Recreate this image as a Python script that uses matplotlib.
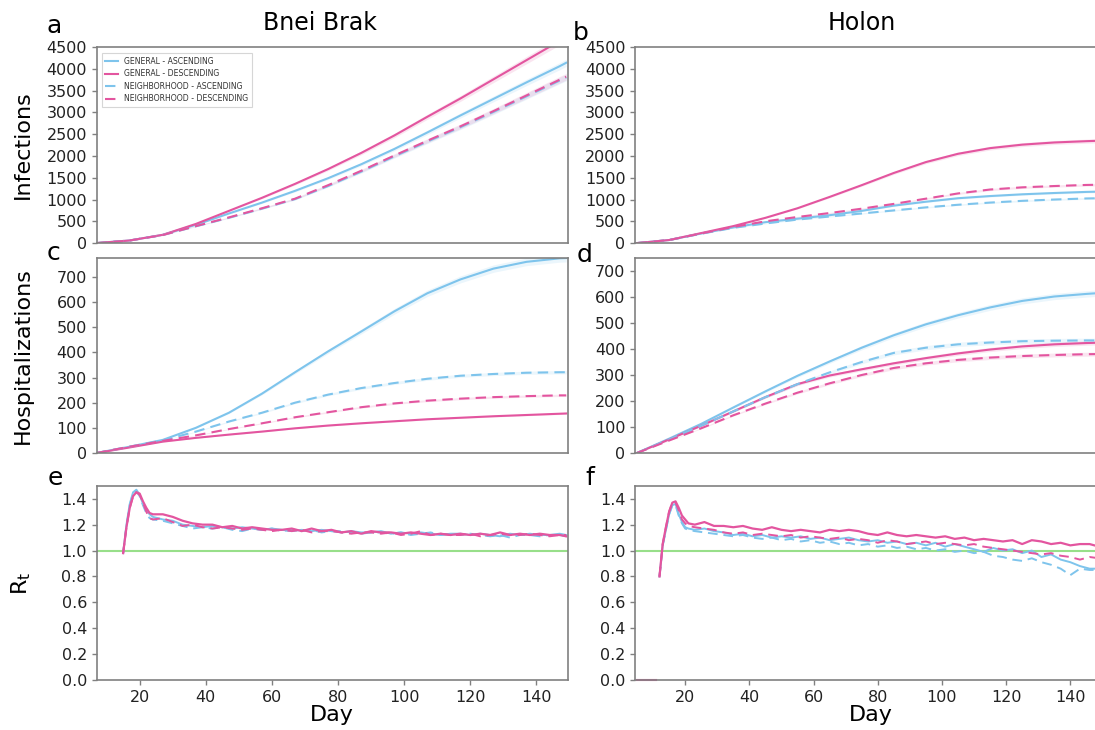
import numpy as np
import matplotlib
matplotlib.use("Agg")
import matplotlib.pyplot as plt

# цвета
BLUE = '#7ec4ec'
PINK = '#e3559f'
GREEN = '#98df8a'
GREY = '#808080'

labels = ['GENERAL - ASCENDING', 'GENERAL - DESCENDING',
          'NEIGHBORHOOD - ASCENDING', 'NEIGHBORHOOD - DESCENDING']

# ---- Bnei Brak: cumulative curves ----
days_bb = [7, 17, 27, 37, 47, 57, 67, 77, 87, 97, 107, 117, 127, 137, 147, 149]
inf_bb_gen_asc = [0, 60, 190, 420, 680, 930, 1200, 1490, 1810, 2160, 2540, 2930, 3310, 3690, 4060, 4140]
inf_bb_gen_desc = [0, 60, 190, 440, 740, 1040, 1360, 1700, 2070, 2470, 2900, 3320, 3760, 4200, 4640, 4730]
inf_bb_nbh_asc = [0, 60, 185, 385, 580, 790, 1010, 1310, 1640, 1990, 2330, 2660, 3010, 3370, 3730, 3800]
inf_bb_nbh_desc = [0, 60, 185, 390, 590, 800, 1020, 1330, 1660, 2010, 2350, 2680, 3030, 3390, 3750, 3820]

hosp_bb_gen_asc = [0, 25, 52, 100, 160, 236, 321, 404, 483, 563, 635, 690, 733, 760, 774, 775]
hosp_bb_gen_desc = [0, 22, 45, 60, 73, 85, 98, 109, 118, 126, 134, 140, 146, 151, 156, 157]
hosp_bb_nbh_asc = [0, 25, 50, 85, 125, 160, 200, 232, 258, 278, 295, 307, 314, 319, 321, 321]
hosp_bb_nbh_desc = [0, 25, 48, 70, 95, 118, 142, 162, 182, 197, 208, 216, 222, 226, 229, 229]

# ---- Holon: cumulative curves ----
days_h = [5, 15, 25, 35, 45, 55, 65, 75, 85, 95, 105, 115, 125, 135, 145, 151]
inf_h_gen_asc = [0, 70, 220, 360, 480, 560, 640, 740, 860, 950, 1030, 1080, 1120, 1150, 1175, 1185]
inf_h_gen_desc = [0, 70, 230, 390, 580, 800, 1060, 1330, 1610, 1860, 2050, 2180, 2260, 2310, 2340, 2355]
inf_h_nbh_asc = [0, 70, 215, 350, 450, 540, 610, 680, 750, 820, 880, 930, 970, 1000, 1025, 1032]
inf_h_nbh_desc = [0, 70, 220, 370, 500, 600, 690, 790, 900, 1020, 1140, 1230, 1280, 1310, 1335, 1342]

hosp_h_gen_asc = [0, 55, 112, 175, 237, 297, 352, 405, 453, 495, 530, 560, 585, 602, 612, 617]
hosp_h_gen_desc = [0, 52, 105, 160, 215, 265, 298, 322, 345, 365, 383, 398, 410, 418, 423, 425]
hosp_h_nbh_asc = [0, 52, 105, 160, 215, 265, 310, 350, 385, 405, 418, 425, 430, 432, 433, 433]
hosp_h_nbh_desc = [0, 48, 95, 145, 190, 232, 268, 300, 327, 345, 358, 367, 373, 377, 380, 381]

# ---- R_t ----
days_rt_bb = [15, 16, 17, 18, 19, 20, 21, 22, 23, 24] + list(range(27, 148, 3)) + [149]
rt_bb_gen_asc = [0.98, 1.20, 1.36, 1.45, 1.47, 1.43, 1.36, 1.31, 1.28, 1.26,
                 1.24, 1.23, 1.20, 1.19, 1.18, 1.19, 1.18, 1.17, 1.18, 1.17, 1.16, 1.17, 1.16, 1.15,
                 1.16, 1.15, 1.16, 1.15, 1.14, 1.15, 1.14, 1.14, 1.15, 1.13, 1.14, 1.13, 1.14, 1.13,
                 1.12, 1.13, 1.13, 1.12, 1.13, 1.12, 1.11, 1.13, 1.12, 1.13, 1.12, 1.12, 1.13, 1.12]
rt_bb_gen_desc = [0.98, 1.18, 1.33, 1.42, 1.45, 1.44, 1.38, 1.33, 1.29, 1.28,
                  1.28, 1.26, 1.23, 1.21, 1.20, 1.20, 1.18, 1.19, 1.17, 1.18, 1.17, 1.16, 1.16, 1.17,
                  1.15, 1.17, 1.15, 1.16, 1.14, 1.15, 1.13, 1.15, 1.14, 1.14, 1.13, 1.14, 1.13, 1.12,
                  1.13, 1.12, 1.13, 1.12, 1.13, 1.12, 1.14, 1.12, 1.13, 1.12, 1.13, 1.12, 1.12, 1.11]
rt_bb_nbh_asc = [0.98, 1.19, 1.35, 1.44, 1.46, 1.42, 1.35, 1.29, 1.25, 1.24,
                 1.23, 1.21, 1.19, 1.17, 1.18, 1.17, 1.18, 1.16, 1.15, 1.17, 1.16, 1.17, 1.15, 1.16,
                 1.15, 1.16, 1.14, 1.15, 1.15, 1.14, 1.13, 1.14, 1.14, 1.13, 1.14, 1.12, 1.13, 1.14,
                 1.12, 1.13, 1.12, 1.13, 1.12, 1.11, 1.12, 1.10, 1.12, 1.12, 1.11, 1.12, 1.12, 1.11]
rt_bb_nbh_desc = [0.98, 1.18, 1.33, 1.42, 1.45, 1.43, 1.37, 1.30, 1.25, 1.24,
                  1.25, 1.22, 1.19, 1.20, 1.18, 1.17, 1.18, 1.17, 1.16, 1.17, 1.16, 1.15, 1.16, 1.15,
                  1.16, 1.14, 1.15, 1.15, 1.14, 1.13, 1.14, 1.14, 1.13, 1.14, 1.12, 1.13, 1.15, 1.12,
                  1.13, 1.12, 1.12, 1.13, 1.11, 1.12, 1.13, 1.12, 1.12, 1.13, 1.12, 1.11, 1.12, 1.12]

days_rt_h = [12, 13, 14, 15, 16, 17, 18, 19, 20, 21] + list(range(23, 150, 3))
rt_h_gen_asc = [0.80, 1.04, 1.16, 1.28, 1.35, 1.36, 1.28, 1.22, 1.18, 1.17,
                1.16, 1.17, 1.15, 1.14, 1.12, 1.13, 1.11, 1.12, 1.10, 1.11, 1.10, 1.11, 1.09, 1.10,
                1.08, 1.09, 1.10, 1.08, 1.07, 1.08, 1.06, 1.07, 1.05, 1.06, 1.04, 1.06, 1.03, 1.05,
                1.03, 1.01, 0.99, 1.02, 1.00, 1.01, 0.98, 1.00, 0.95, 0.97, 0.93, 0.91, 0.88, 0.86, 0.86]
rt_h_gen_desc = [0.80, 1.05, 1.18, 1.30, 1.37, 1.38, 1.33, 1.27, 1.24, 1.21,
                 1.20, 1.22, 1.19, 1.19, 1.18, 1.19, 1.17, 1.16, 1.18, 1.16, 1.15, 1.16, 1.15, 1.14,
                 1.16, 1.15, 1.16, 1.15, 1.13, 1.12, 1.14, 1.12, 1.11, 1.12, 1.11, 1.10, 1.11, 1.09,
                 1.10, 1.08, 1.09, 1.08, 1.07, 1.08, 1.05, 1.08, 1.07, 1.05, 1.06, 1.04, 1.05, 1.05, 1.03]
rt_h_nbh_asc = [0.80, 1.04, 1.16, 1.28, 1.35, 1.35, 1.27, 1.21, 1.17, 1.16,
                1.15, 1.14, 1.13, 1.12, 1.11, 1.12, 1.10, 1.09, 1.10, 1.08, 1.09, 1.07, 1.08, 1.06,
                1.07, 1.05, 1.06, 1.04, 1.05, 1.03, 1.04, 1.02, 1.03, 1.01, 1.02, 1.00, 1.01, 0.99,
                1.00, 0.98, 0.99, 0.96, 0.95, 0.93, 0.92, 0.94, 0.91, 0.89, 0.86, 0.81, 0.86, 0.85, 0.85]
rt_h_nbh_desc = [0.80, 1.05, 1.18, 1.30, 1.37, 1.37, 1.31, 1.24, 1.21, 1.19,
                 1.18, 1.17, 1.16, 1.14, 1.13, 1.14, 1.12, 1.13, 1.12, 1.11, 1.12, 1.10, 1.11, 1.10,
                 1.09, 1.10, 1.08, 1.09, 1.08, 1.06, 1.08, 1.07, 1.05, 1.06, 1.07, 1.05, 1.06, 1.05,
                 1.04, 1.05, 1.03, 1.02, 1.01, 1.00, 0.99, 0.98, 0.97, 0.98, 0.96, 0.95, 0.93, 0.95, 0.94]
days_rt_h_zero = [5, 11]
rt_h_zero = [0, 0]

band = 0.02  # ширина полосы неопределённости (доля)

plt.rcParams['font.family'] = 'DejaVu Sans'
fig = plt.figure(figsize=(10.95, 7.3), dpi=100)

left_x, right_x, w = 0.0883, 0.580, 0.430
rows = [(0.667, 0.2685), (0.3795, 0.267), (0.0685, 0.266)]
axs = [[fig.add_axes([left_x, b, w, h]), fig.add_axes([right_x, b, w, h])] for b, h in rows]


def draw_set(ax, x, ga, gd, na, nd):
    x = np.array(x)
    for y, c in [(na, BLUE), (nd, PINK), (ga, BLUE), (gd, PINK)]:
        y = np.array(y, dtype=float)
        ax.fill_between(x, y * (1 - band), y * (1 + band), color=c, alpha=0.15, lw=0)
    ax.plot(x, ga, color=BLUE, lw=1.5, label=labels[0])
    ax.plot(x, gd, color=PINK, lw=1.5, label=labels[1])
    ax.plot(x, na, color=BLUE, lw=1.5, ls=(0, (5, 3)), label=labels[2])
    ax.plot(x, nd, color=PINK, lw=1.5, ls=(0, (5, 3)), label=labels[3])


draw_set(axs[0][0], days_bb, inf_bb_gen_asc, inf_bb_gen_desc, inf_bb_nbh_asc, inf_bb_nbh_desc)
draw_set(axs[0][1], days_h, inf_h_gen_asc, inf_h_gen_desc, inf_h_nbh_asc, inf_h_nbh_desc)
draw_set(axs[1][0], days_bb, hosp_bb_gen_asc, hosp_bb_gen_desc, hosp_bb_nbh_asc, hosp_bb_nbh_desc)
draw_set(axs[1][1], days_h, hosp_h_gen_asc, hosp_h_gen_desc, hosp_h_nbh_asc, hosp_h_nbh_desc)

for ax, x, ga, gd, na, nd in [
        (axs[2][0], days_rt_bb, rt_bb_gen_asc, rt_bb_gen_desc, rt_bb_nbh_asc, rt_bb_nbh_desc),
        (axs[2][1], days_rt_h, rt_h_gen_asc, rt_h_gen_desc, rt_h_nbh_asc, rt_h_nbh_desc)]:
    ax.axhline(1.0, color=GREEN, lw=1.5, zorder=1)
    ax.plot(x, na, color=BLUE, lw=1.4, ls=(0, (5, 3)))
    ax.plot(x, ga, color=BLUE, lw=1.4)
    ax.plot(x, nd, color=PINK, lw=1.4, ls=(0, (5, 3)))
    ax.plot(x, gd, color=PINK, lw=1.6)
axs[2][1].plot(days_rt_h_zero, rt_h_zero, color=PINK, lw=1.5, clip_on=False)

# оси
for r in range(3):
    axs[r][0].set_xlim(7, 149.4)
    axs[r][1].set_xlim(4.4, 151.1)
for ax in axs[0]:
    ax.set_ylim(0, 4500)
    ax.set_yticks(range(0, 4501, 500))
axs[1][0].set_ylim(0, 775)
axs[1][1].set_ylim(0, 750)
for ax in axs[1]:
    ax.set_yticks(range(0, 701, 100))
for ax in axs[2]:
    ax.set_ylim(0, 1.5)
    ax.set_yticks(np.arange(0, 1.41, 0.2))
    ax.set_yticklabels(['%.1f' % v for v in np.arange(0, 1.41, 0.2)])
    ax.set_xticks(range(20, 141, 20))
    ax.set_xlabel('Day', fontsize=16, labelpad=0)

for r in range(3):
    for ax in axs[r]:
        for s in ax.spines.values():
            s.set_color(GREY)
            s.set_linewidth(1.2)
        ax.tick_params(colors=GREY, labelcolor='#222222', labelsize=11.5, length=3.5, width=1)
        if r < 2:
            ax.set_xticks(range(20, 141, 20))
            ax.tick_params(axis='x', labelbottom=False, length=0)

for ax, lab in zip([axs[0][0], axs[1][0], axs[2][0]], ['Infections', 'Hospitalizations', r'R$_{\mathrm{t}}$']):
    ax.set_ylabel(lab, fontsize=16)
    ax.yaxis.set_label_coords(-0.135, 0.5)

leg = axs[0][0].legend(loc='upper left', fontsize=5.6, handlelength=1.6, labelspacing=0.45,
                       borderpad=0.5, frameon=True, fancybox=False, bbox_to_anchor=(0.002, 0.99))
leg.get_frame().set_edgecolor('#cccccc')
leg.get_frame().set_linewidth(0.8)
for t in leg.get_texts():
    t.set_color('#333333')

fig.text(320 / 1095, 1 - 30 / 730, 'Bnei Brak', fontsize=17, ha='center', va='baseline')
fig.text(862 / 1095, 1 - 30 / 730, 'Holon', fontsize=17, ha='center', va='baseline')

for letter, x, y in [('a', 47, 33), ('c', 47, 260), ('e', 48, 485),
                     ('b', 573, 40), ('d', 577, 262), ('f', 585, 485)]:
    fig.text(x / 1095, 1 - y / 730, letter, fontsize=18, va='baseline')

plt.savefig('out.png', dpi=100)
